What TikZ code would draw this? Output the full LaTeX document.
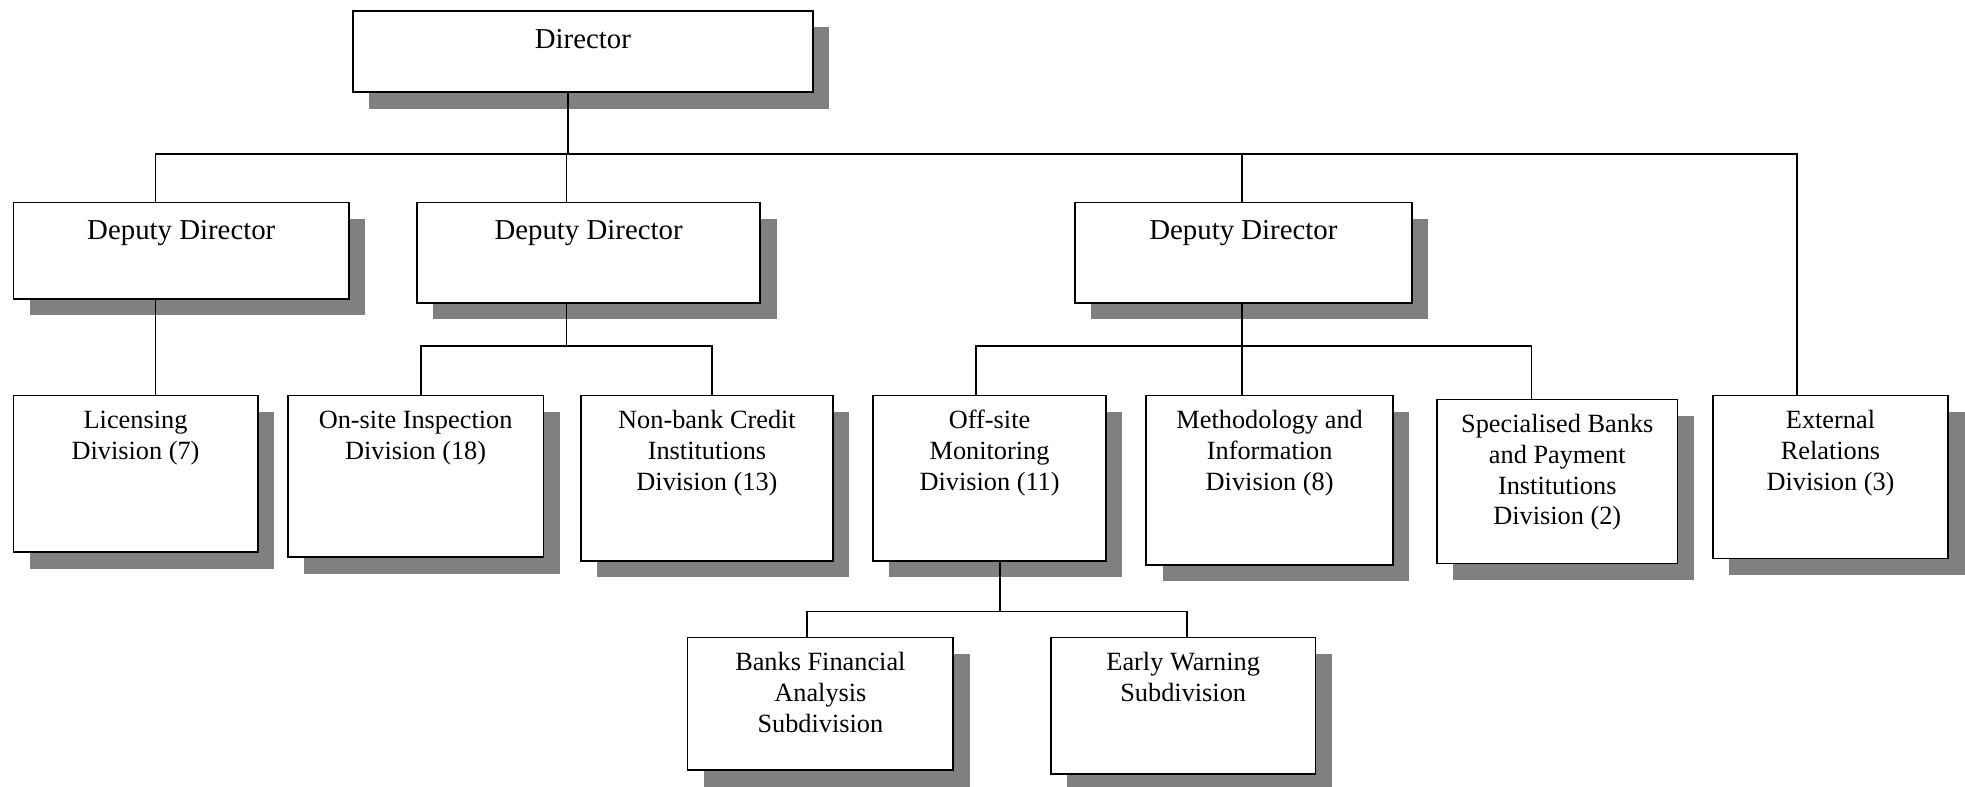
\documentclass[tikz,border=0pt]{standalone}
\usepackage{fontspec}
\setmainfont{Liberation Serif}
\usetikzlibrary{shadows}
\definecolor{shadowgray}{RGB}{128,128,128}
\newcommand\orglines[1]{\parbox[t]{260pt}{\centering #1}}
\begin{document}
\begin{tikzpicture}[x=1pt,y=-1pt,
  orgbox/.style={draw=black, line width=1.3pt, fill=white, rectangle, inner sep=0pt, anchor=north west,
     drop shadow={shadow xshift=13pt, shadow yshift=-13pt, fill=shadowgray, opacity=1}},
  bigtxt/.style={anchor=base, inner sep=0pt, font=\fontsize{23}{26}\selectfont},
  divtxt/.style={anchor=base, inner sep=0pt, font=\fontsize{21}{24.6}\selectfont},
  conn/.style={line width=1.3pt, draw=black}]
\useasboundingbox (0,0) rectangle (1568,627.2);

% boxes
\node[orgbox, minimum width=367pt, minimum height=65pt] (dir) at (281,8) {};
\node[orgbox, minimum width=268pt, minimum height=77pt] (dd1) at (10,161) {};
\node[orgbox, minimum width=274pt, minimum height=80pt] (dd2) at (332,161) {};
\node[orgbox, minimum width=269pt, minimum height=80pt] (dd3) at (857,161) {};
\node[orgbox, minimum width=195pt, minimum height=125pt] (lic) at (10,315) {};
\node[orgbox, minimum width=204pt, minimum height=129pt] (ons) at (229,315) {};
\node[orgbox, minimum width=201pt, minimum height=132pt] (nbc) at (463,315) {};
\node[orgbox, minimum width=186pt, minimum height=132pt] (off) at (696,315) {};
\node[orgbox, minimum width=197pt, minimum height=135pt] (met) at (914,315) {};
\node[orgbox, minimum width=192pt, minimum height=131pt] (spb) at (1146,318) {};
\node[orgbox, minimum width=188pt, minimum height=130pt] (ext) at (1366,315) {};
\node[orgbox, minimum width=212pt, minimum height=106pt] (bfa) at (548,508) {};
\node[orgbox, minimum width=211pt, minimum height=109pt] (ewn) at (838,508) {};

% texts
\node[bigtxt] (tdir) at ([yshift=-30.5pt]dir.north) {Director};
\node[bigtxt] (tdd1) at ([yshift=-30pt]dd1.north) {Deputy Director};
\node[bigtxt] (tdd2) at ([yshift=-30pt]dd2.north) {Deputy Director};
\node[bigtxt] (tdd3) at ([yshift=-30pt]dd3.north) {Deputy Director};
\node[divtxt] (tlic) at ([yshift=-27pt]lic.north) {\orglines{Licensing\\Division (7)}};
\node[divtxt] (tons) at ([yshift=-27pt]ons.north) {\orglines{On-site Inspection\\Division (18)}};
\node[divtxt] (tnbc) at ([yshift=-27pt]nbc.north) {\orglines{Non-bank Credit\\Institutions\\Division (13)}};
\node[divtxt] (toff) at ([yshift=-27pt]off.north) {\orglines{Off-site\\Monitoring\\Division (11)}};
\node[divtxt] (tmet) at ([yshift=-27pt]met.north) {\orglines{Methodology and\\Information\\Division (8)}};
\node[divtxt] (tspb) at ([yshift=-27pt]spb.north) {\orglines{Specialised Banks\\and Payment\\Institutions\\Division (2)}};
\node[divtxt] (text) at ([yshift=-27pt]ext.north) {\orglines{External\\Relations\\Division (3)}};
\node[divtxt] (tbfa) at ([yshift=-27pt]bfa.north) {\orglines{Banks Financial\\Analysis\\Subdivision}};
\node[divtxt] (tewn) at ([yshift=-27pt]ewn.north) {\orglines{Early Warning\\Subdivision}};

% junction points
\coordinate (j0) at (453,123);
\coordinate (ja) at (124,123);
\coordinate (jb) at (452,123);
\coordinate (jc) at (991,123);
\coordinate (jd) at (1434,123);
\coordinate (k0) at (452,276);
\coordinate (k1) at (336,276);
\coordinate (k2) at (568,276);
\coordinate (m0) at (991,276);
\coordinate (m1) at (779,276);
\coordinate (m2) at (1222,276);
\coordinate (n0) at (798,488);
\coordinate (n1) at (644,488);
\coordinate (n2) at (947,488);

% connectors
\draw[conn] (j0 |- dir.south) -- (j0);
\draw[conn] (ja |- dd1.north) -- (ja) -- (jd) -- (jd |- ext.north);
\draw[conn] (jb) -- (jb |- dd2.north);
\draw[conn] (jc) -- (jc |- dd3.north);
\draw[conn] (ja |- dd1.south) -- (ja |- lic.north);
\draw[conn] (k0 |- dd2.south) -- (k0);
\draw[conn] (k1 |- ons.north) -- (k1) -- (k2) -- (k2 |- nbc.north);
\draw[conn] (m0 |- dd3.south) -- (m0 |- met.north);
\draw[conn] (m1 |- off.north) -- (m1) -- (m2) -- (m2 |- spb.north);
\draw[conn] (n0 |- off.south) -- (n0);
\draw[conn] (n1 |- bfa.north) -- (n1) -- (n2) -- (n2 |- ewn.north);
\end{tikzpicture}
\end{document}
